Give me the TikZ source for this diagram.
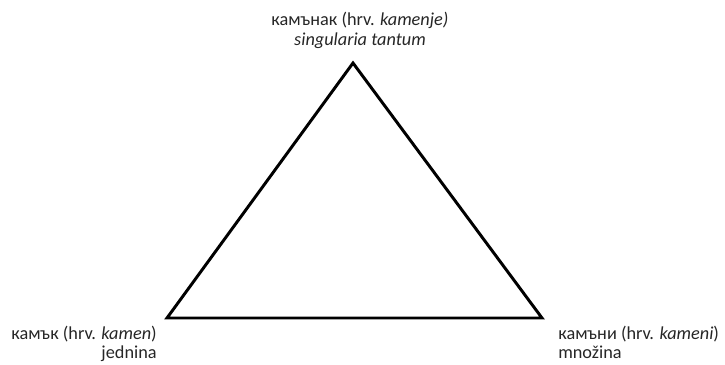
\documentclass[tikz,border=0pt]{standalone}
\usepackage{fontspec}
\setmainfont{Carlito}
\usetikzlibrary{positioning}

\begin{document}
\begin{tikzpicture}[
  x=0.025cm, y=0.025cm,
  font=\fontsize{13}{14.2}\selectfont,
  label/.style={inner sep=0pt, text=black!85},
  tight/.style={font=\fontsize{13}{13.4}\selectfont},
  side/.style={line width=2.1pt, line join=miter, draw=black}
]
\useasboundingbox (0,0) rectangle (725,364);

\coordinate (top) at (353,301);
\coordinate (left) at (167,46);
\coordinate (right) at (542,46);

\draw[side] (top) -- (left) -- (right) -- cycle;

\node[label, align=center, anchor=base] (zbirna) at (360,319)
  {камънак (hrv. \textit{kamenje)}\\ \textit{singularia tantum}};
\node[label, tight, align=right, anchor=base east] (jednina) at (157,6)
  {камък (hrv. \textit{kamen})\\ jednina};
\node[label, tight, align=left, anchor=base west] (mnozina) at (558,6)
  {камъни (hrv. \textit{kameni})\\ množina};
\end{tikzpicture}
\end{document}
